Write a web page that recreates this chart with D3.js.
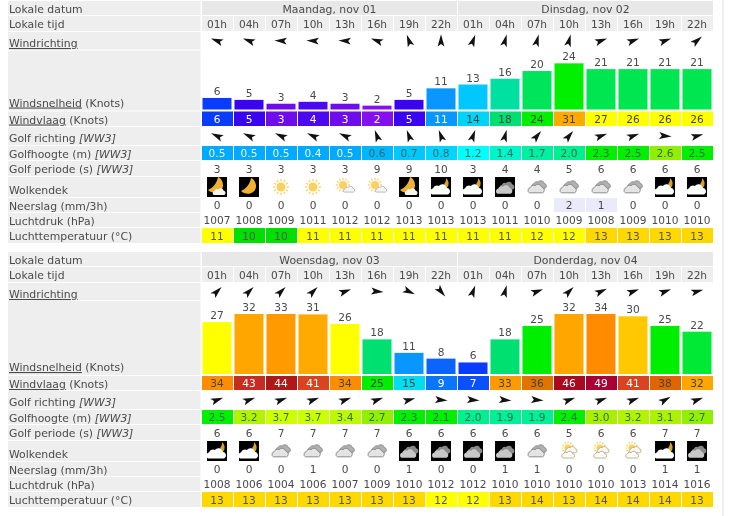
<!DOCTYPE html>
<html><head><meta charset="utf-8">
<script src="https://cdn.jsdelivr.net/npm/d3@7/dist/d3.min.js"></script>
<style>html,body{margin:0;padding:0;background:#fff}svg{display:block;filter:blur(.3px)}text{font-family:"DejaVu Sans",Verdana,sans-serif}</style>
</head><body>
<script>
const hours=["01h","04h","07h","10h","13h","16h","19h","22h","01h","04h","07h","10h","13h","16h","19h","22h"];
const rowLabels=["Lokale datum","Lokale tijd","Windrichting","Windsnelheid","Windvlaag","Golf richting","Golfhoogte (m)","Golf periode (s)","Wolkendek","Neerslag (mm/3h)","Luchtdruk (hPa)","Luchttemperatuur (°C)"];

const days1=["Maandag, nov 01","Dinsdag, nov 02"];
const windDir1=[-70,-70,-87,-87,-87,-70,-20,0,20,15,15,15,70,70,70,50];
const speed1=[6,5,3,4,3,2,5,11,13,16,20,24,21,21,21,21];
const gust1=[6,5,3,4,3,2,5,11,14,18,24,31,27,26,26,26];
const waveDir1=[-65,-65,-65,-65,-65,-20,-20,-20,20,15,40,40,70,70,95,75];
const wave1=[0.5,0.5,0.5,0.4,0.5,0.6,0.7,0.8,1.2,1.4,1.7,2.0,2.3,2.5,2.6,2.5];
const period1=[3,3,3,3,3,9,9,10,3,4,4,5,6,6,6,6];
const cloud1=["moonc","moon","sun","sun","sunc","sunc","moonc","nightc","nightc","nightg","grey","grey","grey","grey","nightc","nightc"];
const rain1=[0,0,0,0,0,0,0,0,0,0,0,2,1,0,0,0];
const rainShade1=[0,0,0,0,0,0,0,0,0,0,0,1,1,0,0,0];
const press1=[1007,1008,1009,1011,1012,1012,1013,1013,1013,1011,1010,1009,1008,1009,1010,1010];
const temp1=[11,10,10,11,11,11,11,11,11,11,12,12,13,13,13,13];

const days2=["Woensdag, nov 03","Donderdag, nov 04"];
const windDir2=[45,45,45,45,70,95,115,140,20,15,70,45,65,70,70,75];
const speed2=[27,32,33,31,26,18,11,8,6,18,25,32,34,30,25,22];
const gust2=[34,43,44,41,34,25,15,9,7,33,36,46,49,41,38,32];
const waveDir2=[70,70,70,70,70,70,75,95,95,95,95,70,70,70,60,70];
const wave2=[2.5,3.2,3.7,3.7,3.4,2.7,2.3,2.1,2.0,1.9,1.9,2.4,3.0,3.2,3.1,2.7];
const period2=[6,6,7,7,7,7,6,6,6,6,6,5,6,6,7,7];
const cloud2=["nightc","nightc","grey","grey","grey","grey","nightg","nightg","nightg","nightg","grey","sunw","sunw","sunw","nightc","nightg"];
const rain2=[0,0,0,1,0,0,1,0,0,1,1,0,0,0,1,1];
const rainShade2=[0,0,0,0,0,0,0,0,0,0,0,0,0,0,0,0];
const press2=[1008,1006,1004,1006,1007,1009,1010,1012,1012,1010,1010,1010,1010,1013,1014,1016];
const temp2=[13,13,13,13,13,13,13,12,12,13,14,13,14,14,14,13];

const windStops=[2,3,4,5,6,8,11,13,15,16,18,21,24,25,26,27,30,31,32,33,34,36,38,41,43,44,46,49];
const windCols=["#8410f0","#6e0cec","#4c08f0","#3a04f0","#0a3cff","#0a64ff","#0a96ff","#00c8ff","#00dcf0","#00e0a0","#00e070","#00e650","#00f000","#00ee00","#ffff00","#ffff00","#ffc800","#ffaa00","#ffa600","#ff9a00","#ff8c00","#e07400","#e06400","#d84420","#c82c20","#b01818","#a80a20","#a80035"];
const waveStops=[0.4,0.5,0.6,0.7,0.8,1.2,1.4,1.7,2.0,2.1,2.5,2.6,2.7,3.0,3.7];
const waveCols=["#00aaff","#00aaff","#00b6ff","#00c8ff","#00d4ff","#00ffff","#00f5c8","#00f0a0","#00f090","#00f000","#00f000","#90f000","#90f000","#a8f000","#ccff00"];
const tempStops=[10,11,12,13,14];
const tempCols=["#00e000","#ffff00","#ffff00","#ffd800","#ffd800"];

const windColor=d3.scaleLinear().domain(windStops).range(windCols);
const waveColor=d3.scaleLinear().domain(waveStops).range(waveCols);
const tempColor=d3.scaleLinear().domain(tempStops).range(tempCols);
const x=d3.scaleBand().domain(d3.range(hours.length)).range([201.5,713.5]);
const barH=d3.scaleLinear().domain([0,31.2]).range([0,60]).clamp(true);

const svg=d3.select("body").append("svg").attr("width",732).attr("height",516);
svg.append("rect").attr("x",722).attr("y",0).attr("width",2).attr("height",516).attr("fill","#f0f0f0");

const TXT="#4a4a4a",FS=10.6,LFS=10.85;
function cellText(g,data,cy,fill){
  g.selectAll(null).data(data).join("text").attr("x",(d,i)=>x(i)+x.bandwidth()/2-.5).attr("y",cy+4.3)
   .attr("text-anchor","middle").attr("font-size",FS).attr("fill",fill||TXT).text(d=>d);
}
function cellBg(g,data,top,h,color){
  g.selectAll(null).data(data).join("rect").attr("x",(d,i)=>x(i)+.5).attr("y",top).attr("width",x.bandwidth()-1).attr("height",h).attr("fill",color);
}
function arrows(g,data,cy){
  g.selectAll(null).data(data).join("path").attr("d","M0,-6.5L3.4,5.8L0,3.2L-3.4,5.8Z").attr("fill","#111")
   .attr("transform",(d,i)=>`translate(${x(i)+x.bandwidth()/2-.5},${cy}) rotate(${d})`);
}
function cloudShape(g,cx,cy,s,fill,stroke){
  const c=g.append("g").attr("transform",`translate(${cx},${cy}) scale(${s})`);
  c.append("path").attr("d","M-7,4A3,3 0 0 1 -6,-1.5A3.6,3.6 0 0 1 -1,-3.5A4,4 0 0 1 6,-2A3.2,3.2 0 0 1 7,4Z")
   .attr("fill",fill).attr("stroke",stroke||"none").attr("stroke-width",stroke?1:0);
}
function sunShape(g,cx,cy,r,col){
  const a=g.append("g").attr("transform",`translate(${cx},${cy})`);
  a.selectAll(null).data(d3.range(12)).join("line").attr("x1",0).attr("y1",r+1).attr("x2",0).attr("y2",r*1.8).attr("stroke",col).attr("stroke-width",1.2).attr("transform",d=>`rotate(${d*30})`);
  a.append("circle").attr("r",r).attr("fill",col);
}
const moonPath="M2,-9C1,-3 -3,2 -8,4C-3,9 6,7 7,0C7.4,-4 5,-8 2,-9Z";
function icon(g,kind){
  if(["moon","moonc","nightc","nightg"].includes(kind)) g.append("rect").attr("x",-10).attr("y",-10).attr("width",20).attr("height",20).attr("fill","#000");
  if(kind==="moon"){g.append("path").attr("d",moonPath).attr("fill","#f0b030");}
  if(kind==="moonc"){g.append("path").attr("d",moonPath).attr("fill","#f0b030").attr("transform","translate(-1,-1)");cloudShape(g,2,5,.75,"#f4f4f4");}
  if(kind==="nightc"){g.append("path").attr("d","M5,-9C9,-5 8,-1 5,2L3,-3C5,-5 5,-7 5,-9Z").attr("fill","#d8a030");cloudShape(g,-1,3,1.15,"#fff");}
  if(kind==="nightg"){cloudShape(g,2,-1,.85,"#8a8a8a");cloudShape(g,-1,3,.95,"#c8c8c8");}
  if(kind==="grey"){cloudShape(g,2,-2,.85,"#b0b0b0","#888");cloudShape(g,-1,2,.95,"#e4e4e4","#888");}
  if(kind==="sun") sunShape(g,0,0,4.5,"#fcd060");
  if(kind==="sunc"){sunShape(g,-2,-2,4,"#fcd060");cloudShape(g,4,2.5,.65,"#f4f4f4","#999");}
  if(kind==="sunw"){sunShape(g,-1,-3,3.6,"#fcd060");cloudShape(g,2,-1,.7,"#f8f8f8","#b09a60");cloudShape(g,-1,4,.75,"#fff","#a09a70");}
}
function drawTable(o){
  const g=svg.append("g");
  const tops=o.rows.map(r=>r[0]), bots=o.rows.map(r=>r[1]);
  o.rows.forEach((r,i)=>{g.append("rect").attr("x",8).attr("y",r[0]).attr("width",192.5).attr("height",r[1]-r[0]).attr("fill","#eeeeee");});
  const labelY=[tops[0]+12,tops[1]+12,tops[2]+15,bots[3]-4,tops[4]+12,tops[5]+15,tops[6]+12,tops[7]+12,tops[8]+17,tops[9]+12,tops[10]+12,tops[11]+12];
  const under={2:["Windrichting",""],3:["Windsnelheid"," (Knots)"],4:["Windvlaag"," (Knots)"]};
  rowLabels.forEach((l,i)=>{
    const t=g.append("text").attr("x",9).attr("y",labelY[i]).attr("font-size",LFS).attr("fill",TXT);
    if(under[i]){t.append("tspan").attr("text-decoration","underline").text(under[i][0]);t.append("tspan").text(under[i][1]);}
    else{t.append("tspan").text(l);if(i>=5&&i<=7)t.append("tspan").attr("font-style","italic").text(" [WW3]");}
  });
  [[0,8],[8,16]].forEach((s,i)=>{
    const x0=x(s[0])+.5,x1=x(s[1]-1)+x.bandwidth()-.5;
    g.append("rect").attr("x",x0).attr("y",tops[0]).attr("width",x1-x0).attr("height",bots[0]-tops[0]).attr("fill","#e8e8e8");
    g.append("text").attr("x",(x0+x1)/2).attr("y",tops[0]+12).attr("text-anchor","middle").attr("font-size",LFS).attr("fill",TXT).text(o.days[i]);
  });
  cellBg(g,hours,tops[1],bots[1]-tops[1],"#eeeeee");
  cellText(g,hours,(tops[1]+bots[1])/2);
  arrows(g,o.windDir,(tops[2]+bots[2])/2);
  const base=bots[3]-1;
  g.selectAll(null).data(o.speed).join("rect").attr("x",(d,i)=>x(i)+1).attr("width",x.bandwidth()-3)
    .attr("y",d=>base-barH(d)).attr("height",d=>barH(d)).attr("fill",d=>windColor(d));
  g.selectAll(null).data(o.speed).join("text").attr("x",(d,i)=>x(i)+x.bandwidth()/2-.5).attr("y",d=>base-barH(d)-3)
    .attr("text-anchor","middle").attr("font-size",FS).attr("fill",TXT).text(d=>d);
  cellBg(g,o.gust,tops[4],bots[4]-tops[4],d=>windColor(d));
  g.selectAll(null).data(o.gust).join("text").attr("x",(d,i)=>x(i)+x.bandwidth()/2-.5).attr("y",(tops[4]+bots[4])/2+4)
    .attr("text-anchor","middle").attr("font-size",FS).attr("fill",d=>(d<=11||d>=41)?"#fff":"#444").text(d=>d);
  arrows(g,o.waveDir,(tops[5]+bots[5])/2);
  cellBg(g,o.wave,tops[6],bots[6]-tops[6],d=>waveColor(d));
  g.selectAll(null).data(o.wave).join("text").attr("x",(d,i)=>x(i)+x.bandwidth()/2-.5).attr("y",(tops[6]+bots[6])/2+4)
    .attr("text-anchor","middle").attr("font-size",FS).attr("fill",d=>d<0.6?"#e8f6ff":"#3a6a60").text(d=>d.toFixed(1));
  cellText(g,o.period,(tops[7]+bots[7])/2);
  g.selectAll(null).data(o.cloud).join("g").attr("transform",(d,i)=>`translate(${x(i)+x.bandwidth()/2-.5},${(tops[8]+bots[8])/2})`).each(function(d){icon(d3.select(this),d);});
  cellBg(g,o.rainShade,tops[9],bots[9]-tops[9],d=>d?"#eaeafa":"#fff");
  cellText(g,o.rain,(tops[9]+bots[9])/2);
  cellText(g,o.press,(tops[10]+bots[10])/2);
  cellBg(g,o.temp,tops[11],bots[11]-tops[11],d=>tempColor(d));
  cellText(g,o.temp,(tops[11]+bots[11])/2,"#555");
}
drawTable({days:days1,windDir:windDir1,speed:speed1,gust:gust1,waveDir:waveDir1,wave:wave1,period:period1,cloud:cloud1,rain:rain1,rainShade:rainShade1,press:press1,temp:temp1,
  rows:[[1,15],[16,31],[32,49.5],[50.5,110.5],[111.5,126],[127,145],[146,160],[161,176],[177,197],[198,212],[213,227],[228,243]]});
drawTable({days:days2,windDir:windDir2,speed:speed2,gust:gust2,waveDir:waveDir2,wave:wave2,period:period2,cloud:cloud2,rain:rain2,rainShade:rainShade2,press:press2,temp:temp2,
  rows:[[252,266],[267,282],[283,300],[301,375],[376,390],[391,409],[410,424],[425,440],[441,461],[462,476],[477,491],[492,507]]});
</script>
</body></html>
